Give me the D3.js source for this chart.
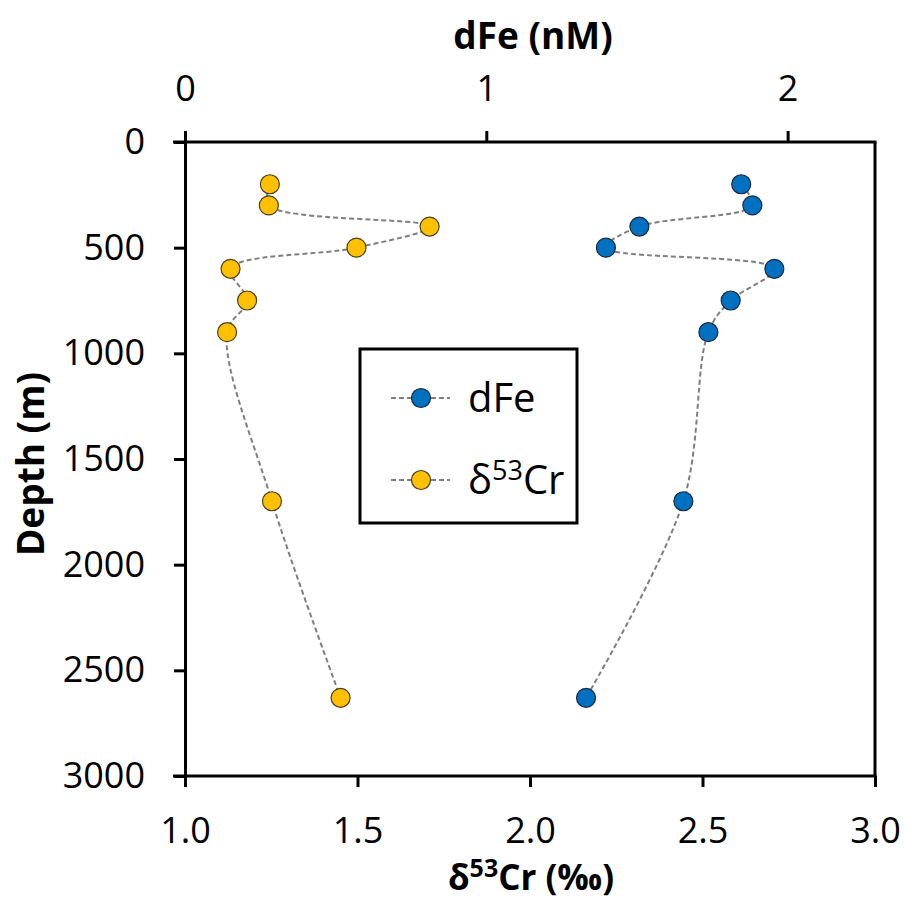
<!DOCTYPE html>
<html>
<head>
<meta charset="utf-8">
<script src="https://cdn.jsdelivr.net/npm/d3@7"></script>
<style>
  body { margin: 0; background: #fff; }
  svg { display: block; }
</style>
</head>
<body>
<svg width="905" height="903"></svg>
<script>
// sampling depths (m)
var depths = [200, 300, 400, 500, 600, 750, 900, 1700, 2630];
// dFe (nM), top axis
var dFe = [1.846, 1.883, 1.508, 1.397, 1.956, 1.811, 1.737, 1.654, 1.331];
// d53Cr (permil), bottom axis
var cr53 = [1.246, 1.243, 1.709, 1.497, 1.132, 1.180, 1.122, 1.252, 1.451];

var crTicks = [1.0, 1.5, 2.0, 2.5, 3.0];
var feTicks = [0, 1, 2];
var depthTicks = [0, 500, 1000, 1500, 2000, 2500, 3000];

var svg = d3.select("svg"),
    plotLeft = 185, plotTop = 142, plotRight = 875, plotBottom = 776;

var xCr = d3.scaleLinear().domain([1, 3]).range([plotLeft, plotRight]);
var xFe = d3.scaleLinear().domain([0, 2.29]).range([plotLeft, plotRight]);
var y = d3.scaleLinear().domain([0, 3000]).range([plotTop, plotBottom]);

var font = "'Open Sans', sans-serif";

// right border
svg.append("line")
    .attr("x1", plotRight).attr("x2", plotRight)
    .attr("y1", plotTop).attr("y2", plotBottom)
    .attr("stroke", "#000").attr("stroke-width", 3);

// bottom axis
var gB = svg.append("g")
    .attr("transform", "translate(0," + plotBottom + ")")
    .call(d3.axisBottom(xCr).tickValues(crTicks).tickFormat(d3.format(".1f")).tickSize(11).tickPadding(30).tickSizeOuter(0));

// top axis
var gT = svg.append("g")
    .attr("transform", "translate(0," + plotTop + ")")
    .call(d3.axisTop(xFe).tickValues(feTicks).tickFormat(d3.format("d")).tickSize(11).tickPadding(30).tickSizeOuter(0));

// left axis
var gL = svg.append("g")
    .attr("transform", "translate(" + plotLeft + ",0)")
    .call(d3.axisLeft(y).tickValues(depthTicks).tickFormat(d3.format("d")).tickSize(11).tickPadding(29).tickSizeOuter(0));

[gB, gT, gL].forEach(function(g) {
    g.select(".domain").attr("stroke-width", 3);
    g.selectAll(".tick line").attr("stroke-width", 3);
    g.selectAll(".tick text")
        .attr("fill", "#000")
        .style("font-family", font)
        .style("font-size", "36px");
});
// extend the axis lines past the corners like the original
gT.select(".domain").attr("d", "M" + (plotLeft - 12) + ",0H" + (plotRight + 1.5));
gB.select(".domain").attr("d", "M" + (plotLeft - 12) + ",0H" + (plotRight + 1.5));

// series
var line = d3.line().curve(d3.curveCatmullRom.alpha(0.5));

function drawSeries(xs, xScale, fill, stroke) {
    var pts = depths.map(function(d, i) { return [xScale(xs[i]), y(d)]; });
    svg.append("path")
        .attr("d", line(pts))
        .attr("fill", "none")
        .attr("stroke", "#7f7f7f")
        .attr("stroke-width", 2)
        .attr("stroke-dasharray", "5,3");
    svg.append("g").selectAll("circle")
        .data(pts)
        .enter().append("circle")
        .attr("cx", function(p) { return p[0]; })
        .attr("cy", function(p) { return p[1]; })
        .attr("r", 9.5)
        .attr("fill", fill)
        .attr("stroke", stroke)
        .attr("stroke-width", 1.2);
}
drawSeries(dFe, xFe, "#0070C0", "#1a2a40");
drawSeries(cr53, xCr, "#FFC000", "#4a4020");

// legend
var lg = svg.append("g");
lg.append("rect")
    .attr("x", 360).attr("y", 349)
    .attr("width", 217).attr("height", 174)
    .attr("fill", "#fff").attr("stroke", "#000").attr("stroke-width", 3);
var legendItems = [
    {name: "dFe", fill: "#0070C0", stroke: "#1a2a40", y: 398},
    {name: "Cr", fill: "#FFC000", stroke: "#4a4020", y: 480}
];
legendItems.forEach(function(it) {
    lg.append("line")
        .attr("x1", 391).attr("x2", 450)
        .attr("y1", it.y).attr("y2", it.y)
        .attr("stroke", "#7f7f7f").attr("stroke-width", 2).attr("stroke-dasharray", "5,3");
    lg.append("circle")
        .attr("cx", 421).attr("cy", it.y).attr("r", 9.5)
        .attr("fill", it.fill).attr("stroke", it.stroke).attr("stroke-width", 1.2);
    var t = lg.append("text")
        .attr("x", 468).attr("y", it.y + 14)
        .style("font-family", font).style("font-size", "40px");
    if (it.name === "Cr") {
        t.append("tspan").text("δ");
        t.append("tspan").attr("dy", -14).style("font-size", "27px").text("53");
        t.append("tspan").attr("dy", 14).text("Cr");
    } else {
        t.text(it.name);
    }
});

// axis titles
svg.append("text")
    .attr("x", 533).attr("y", 49)
    .attr("text-anchor", "middle")
    .style("font-family", font).style("font-weight", "bold").style("font-size", "37px")
    .text("dFe (nM)");

svg.append("text")
    .attr("transform", "translate(44,464) rotate(-90)")
    .attr("text-anchor", "middle")
    .style("font-family", font).style("font-weight", "bold").style("font-size", "37px")
    .text("Depth (m)");

var bt = svg.append("text")
    .attr("x", 531).attr("y", 890)
    .attr("text-anchor", "middle")
    .style("font-family", font).style("font-weight", "bold").style("font-size", "35px");
bt.append("tspan").text("δ");
bt.append("tspan").attr("dy", -13).style("font-size", "25px").text("53");
bt.append("tspan").attr("dy", 13).text("Cr (‰)");
</script>
</body>
</html>
